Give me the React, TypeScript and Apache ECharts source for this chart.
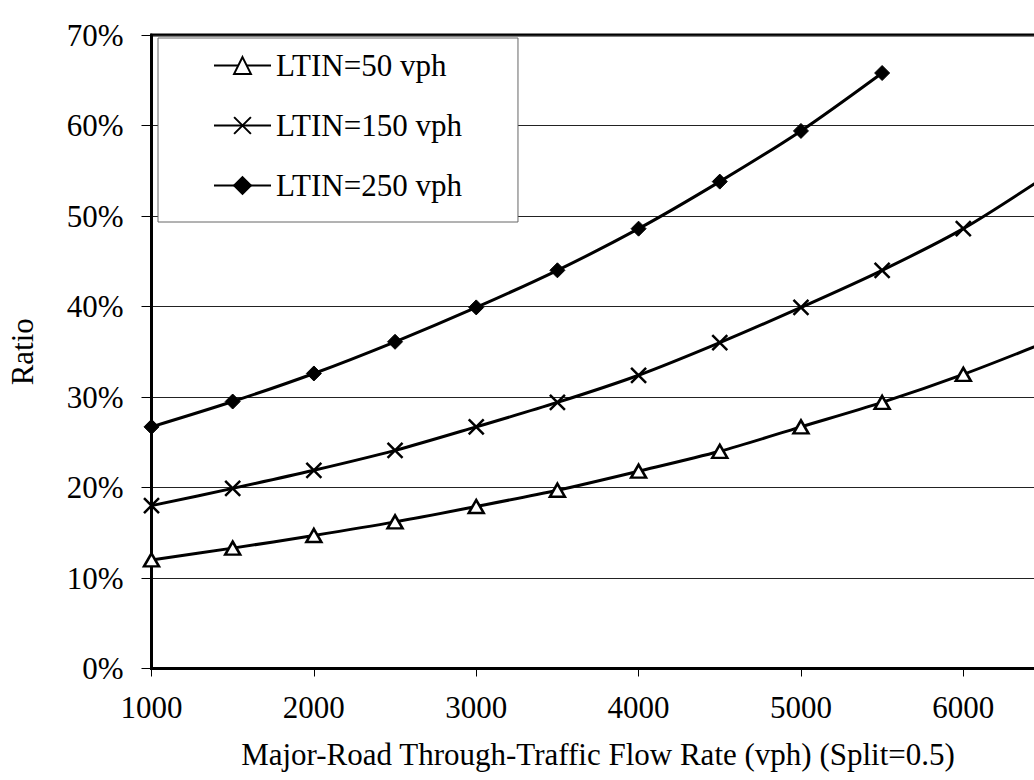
import React, { useEffect, useRef } from "react";
import * as echarts from "echarts";

const flowRates = [1000, 1500, 2000, 2500, 3000, 3500, 4000, 4500, 5000, 5500, 6000, 6500];
const ltin50 = [12.0, 13.3, 14.7, 16.2, 17.9, 19.7, 21.8, 24.0, 26.7, 29.4, 32.5, 36.0];
const ltin150 = [18.0, 19.9, 21.9, 24.1, 26.7, 29.4, 32.4, 36.0, 39.9, 44.0, 48.6, 54.3];
const ltin250 = [26.7, 29.5, 32.6, 36.1, 39.9, 44.0, 48.6, 53.8, 59.4, 65.8];
const yTicks = [0, 10, 20, 30, 40, 50, 60, 70];
const seriesNames = ["LTIN=50 vph", "LTIN=150 vph", "LTIN=250 vph"];

const FONT = "Liberation Serif";

function pairs(vals: number[]) {
  return vals.map((v, i) => [flowRates[i], v]);
}

export default function App() {
  const ref = useRef<HTMLDivElement>(null);
  useEffect(() => {
    if (!ref.current) return;
    const chart = echarts.init(ref.current, undefined, { renderer: "svg" });
    const lineStyle = { color: "#000", width: 3 };
    chart.setOption({
      animation: false,
      backgroundColor: "#fff",
      textStyle: { fontFamily: FONT, color: "#000" },
      grid: {
        left: 151.5,
        top: 35,
        width: 893,
        height: 633.5,
        show: true,
        borderColor: "#000",
        borderWidth: 3,
        backgroundColor: "transparent",
        containLabel: false,
        outerBoundsMode: "none",
      },
      legend: {
        orient: "vertical",
        left: 158,
        top: 38,
        padding: [12, 56, 21, 55],
        itemGap: 29,
        itemWidth: 57,
        itemHeight: 21,
        backgroundColor: "#fff",
        borderColor: "#666",
        borderWidth: 1,
        borderRadius: 0,
        data: seriesNames,
        textStyle: { fontFamily: FONT, fontSize: 31, color: "#000", lineHeight: 30 },
      },
      xAxis: {
        type: "value",
        min: 1000,
        max: 6500,
        interval: 1000,
        name: "Major-Road Through-Traffic Flow Rate (vph) (Split=0.5)",
        nameLocation: "middle",
        nameGap: 70,
        nameTextStyle: { fontFamily: FONT, fontSize: 31, color: "#000" },
        axisLine: { show: true, lineStyle: { color: "#000", width: 3 } },
        axisTick: { show: true, length: 8, lineStyle: { color: "#000", width: 1 } },
        axisLabel: {
          fontFamily: FONT,
          fontSize: 31,
          color: "#000",
          margin: 23,
          showMaxLabel: false,
          formatter: (v: number) => (v % 1000 === 0 ? String(v) : ""),
        },
        splitLine: { show: false },
      },
      yAxis: {
        type: "value",
        min: yTicks[0],
        max: yTicks[yTicks.length - 1],
        interval: 10,
        name: "Ratio",
        nameLocation: "middle",
        nameGap: 114,
        nameTextStyle: { fontFamily: FONT, fontSize: 31, color: "#000" },
        axisLine: { show: true, lineStyle: { color: "#000", width: 3 } },
        axisTick: { show: true, length: 10, lineStyle: { color: "#000", width: 1 } },
        axisLabel: {
          fontFamily: FONT,
          fontSize: 31,
          color: "#000",
          margin: 28,
          formatter: "{value}%",
        },
        splitLine: { show: true, lineStyle: { color: "#222", width: 1 } },
      },
      series: [
        {
          name: seriesNames[0],
          type: "line",
          data: pairs(ltin50),
          smooth: 0.3,
          symbol: "triangle",
          symbolSize: [15, 13],
          lineStyle,
          itemStyle: { color: "#fff", borderColor: "#000", borderWidth: 2.5 },
          z: 3,
        },
        {
          name: seriesNames[1],
          type: "line",
          data: pairs(ltin150),
          smooth: 0.3,
          symbol: "path://M0 0L10 10M10 0L0 10",
          symbolSize: 15,
          lineStyle,
          itemStyle: { color: "#000", borderColor: "#000", borderWidth: 2.5 },
          z: 3,
        },
        {
          name: seriesNames[2],
          type: "line",
          data: pairs(ltin250),
          smooth: 0.3,
          symbol: "diamond",
          symbolSize: 15,
          lineStyle,
          itemStyle: { color: "#000", borderColor: "#000", borderWidth: 1 },
          z: 3,
        },
      ],
    });
    return () => chart.dispose();
  }, []);
  return (
    <div
      ref={ref}
      style={{ position: "fixed", left: 0, top: 0, width: 1034, height: 780 }}
    />
  );
}
